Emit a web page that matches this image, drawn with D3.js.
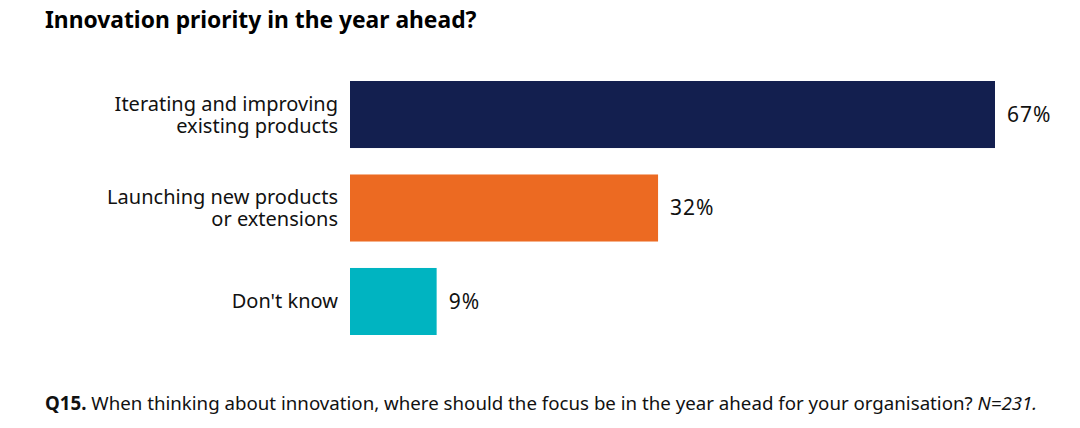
<!DOCTYPE html>
<html>
<head>
<meta charset="utf-8">
<script src="https://cdn.jsdelivr.net/npm/d3@7"></script>
<style>
  body { margin: 0; background: #fff; }
  svg { font-family: "Noto Sans", "Open Sans", sans-serif; }
</style>
</head>
<body>
<div id="chart"></div>
<script>
var categories = ["Iterating and improving|existing products", "Launching new products|or extensions", "Don't know"];
var values = [67, 32, 9];
var colors = ["#131f4f", "#ec6a22", "#00b4c1"];

var width = 1080, height = 428;

var svg = d3.select("#chart")
  .append("svg")
    .attr("width", width)
    .attr("height", height);

// title
svg.append("text")
  .attr("x", 45)
  .attr("y", 28)
  .style("font-size", "22.8px")
  .style("font-weight", "bold")
  .attr("fill", "#000")
  .text("Innovation priority in the year ahead?");

var x = d3.scaleLinear()
  .domain([0, 67])
  .range([350, 995]);

var y = d3.scaleBand()
  .domain(categories)
  .range([81, 335])
  .paddingInner(0.283)
  .paddingOuter(0);

// bars
svg.selectAll("rect.bar")
  .data(values)
  .enter()
  .append("rect")
    .attr("class", "bar")
    .attr("x", x(0))
    .attr("y", function(d, i) { return y(categories[i]); })
    .attr("width", function(d) { return x(d) - x(0); })
    .attr("height", y.bandwidth())
    .attr("fill", function(d, i) { return colors[i]; });

// value labels
svg.selectAll("text.val")
  .data(values)
  .enter()
  .append("text")
    .attr("class", "val")
    .attr("x", function(d) { return x(d) + 12; })
    .attr("y", function(d, i) { return y(categories[i]) + y.bandwidth() / 2; })
    .attr("dy", "0.35em")
    .style("font-size", "21px")
    .style("letter-spacing", "1px")
    .attr("fill", "#111")
    .text(function(d) { return d + "%"; });

// category labels (multi line)
categories.forEach(function(c) {
  var lines = c.split("|");
  var cy = y(c) + y.bandwidth() / 2;
  var lh = 22;
  var t = svg.append("text")
    .attr("text-anchor", "end")
    .style("font-size", "20px")
    .attr("fill", "#111");
  lines.forEach(function(l, j) {
    t.append("tspan")
      .attr("x", 338)
      .attr("y", cy + (j - (lines.length - 1) / 2) * lh)
      .attr("dy", "0.35em")
      .text(l);
  });
});

// footnote
var foot = svg.append("text")
  .attr("x", 45)
  .attr("y", 410)
  .style("font-size", "18.7px")
  .attr("fill", "#111");
foot.append("tspan").style("font-weight", "bold").text("Q15.");
foot.append("tspan").text(" When thinking about innovation, where should the focus be in the year ahead for your organisation? ");
foot.append("tspan").style("font-style", "italic").text("N=231.");
</script>
</body>
</html>
